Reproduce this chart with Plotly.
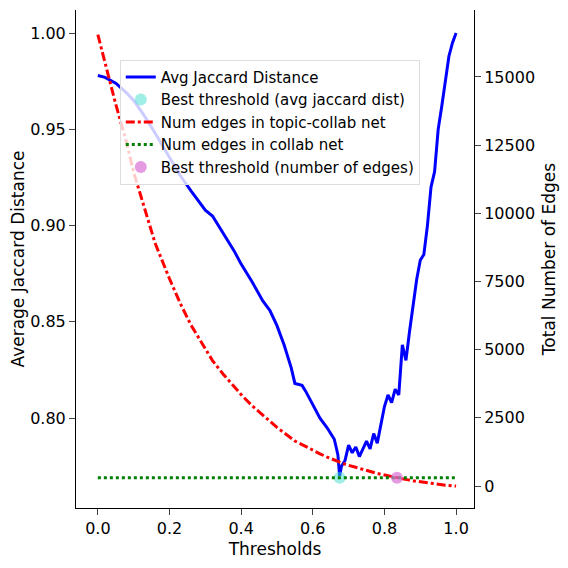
import plotly.graph_objects as go

thresholds = [0.0, 0.02, 0.05, 0.08, 0.1, 0.13, 0.16, 0.2, 0.23, 0.26, 0.3, 0.32, 0.35, 0.38, 0.4, 0.43, 0.46, 0.48, 0.5, 0.52, 0.54, 0.55, 0.57, 0.58, 0.6, 0.62, 0.64, 0.66, 0.67, 0.675, 0.68, 0.69, 0.7, 0.71, 0.72, 0.73, 0.74, 0.75, 0.76, 0.77, 0.78, 0.79, 0.8, 0.81, 0.82, 0.83, 0.84, 0.85, 0.86, 0.87, 0.88, 0.89, 0.9, 0.91, 0.92, 0.93, 0.94, 0.95, 0.96, 0.97, 0.98, 0.99, 1.0]
avg_jaccard = [0.978, 0.977, 0.974, 0.969, 0.965, 0.957, 0.948, 0.935, 0.926, 0.918, 0.908, 0.905, 0.896, 0.887, 0.880, 0.871, 0.861, 0.856, 0.848, 0.838, 0.826, 0.818, 0.817, 0.814, 0.807, 0.800, 0.795, 0.789, 0.781, 0.770, 0.775, 0.778, 0.786, 0.782, 0.785, 0.780, 0.784, 0.788, 0.784, 0.792, 0.787, 0.796, 0.806, 0.812, 0.808, 0.815, 0.812, 0.838, 0.830, 0.845, 0.858, 0.872, 0.882, 0.885, 0.900, 0.920, 0.928, 0.950, 0.962, 0.975, 0.988, 0.995, 1.0]
edges_topic = [16550, 15500, 14000, 12600, 11500, 10200, 8900, 7600, 6700, 5900, 5000, 4600, 4100, 3650, 3350, 2950, 2600, 2400, 2150, 1950, 1750, 1650, 1520, 1450, 1300, 1180, 1060, 950, 900, 870, 850, 800, 760, 720, 680, 640, 600, 560, 520, 490, 460, 430, 400, 370, 340, 315, 290, 265, 240, 215, 190, 170, 150, 130, 110, 90, 75, 60, 45, 30, 20, 10, 0]
edges_collab = 300
best_avg = (0.675, 0.769)
best_edges = (0.835, 300)
edge_ticks = [0, 2500, 5000, 7500, 10000, 12500, 15000]

fig = go.Figure()
fig.add_trace(go.Scatter(x=thresholds, y=avg_jaccard, mode="lines", name="Avg Jaccard Distance",
                         line=dict(color="blue", width=3)))
fig.add_trace(go.Scatter(x=[best_avg[0]], y=[best_avg[1]], mode="markers", name="Best threshold (avg jaccard dist)",
                         marker=dict(color="rgba(64,224,208,0.5)", size=12)))
fig.add_trace(go.Scatter(x=thresholds, y=edges_topic, mode="lines", name="Num edges in topic-collab net",
                         line=dict(color="red", width=3, dash="dashdot"), yaxis="y2"))
fig.add_trace(go.Scatter(x=[0, 1], y=[edges_collab, edges_collab], mode="lines", name="Num edges in collab net",
                         line=dict(color="green", width=3, dash="dot"), yaxis="y2"))
fig.add_trace(go.Scatter(x=[best_edges[0]], y=[best_edges[1]], mode="markers", name="Best threshold (number of edges)",
                         marker=dict(color="rgba(218,112,214,0.7)", size=12), yaxis="y2"))

axis_common = dict(showgrid=False, zeroline=False, showline=True, linecolor="black", linewidth=1,
                   ticks="outside", ticklen=6, tickfont=dict(size=16), mirror=False)
fig.update_layout(
    width=568, height=568, plot_bgcolor="white", paper_bgcolor="white",
    font=dict(family="DejaVu Sans", size=16, color="black"),
    margin=dict(l=68, r=102, t=2, b=68),
    xaxis=dict(title=dict(text="Thresholds", font=dict(size=17), standoff=5), range=[-0.061, 1.05],
               tickvals=[0, 0.2, 0.4, 0.6, 0.8, 1.0], ticktext=["0.0", "0.2", "0.4", "0.6", "0.8", "1.0"], **axis_common),
    yaxis=dict(title=dict(text="Average Jaccard Distance", font=dict(size=17), standoff=8), range=[0.7533, 1.012],
               tickvals=[0.80, 0.85, 0.90, 0.95, 1.00], ticktext=["0.80", "0.85", "0.90", "0.95", "1.00"], **axis_common),
    yaxis2=dict(title=dict(text="Total Number of Edges", font=dict(size=17), standoff=8), overlaying="y", side="right",
                range=[-807, 17457], tickvals=edge_ticks, ticktext=[str(t) for t in edge_ticks], **axis_common),
    showlegend=True,
    legend=dict(x=0.11, y=0.9, xanchor="left", yanchor="top", bgcolor="rgba(255,255,255,0.8)",
                bordercolor="#dddddd", borderwidth=1, font=dict(size=15), tracegroupgap=0),
)
fig.write_html("out.html")
